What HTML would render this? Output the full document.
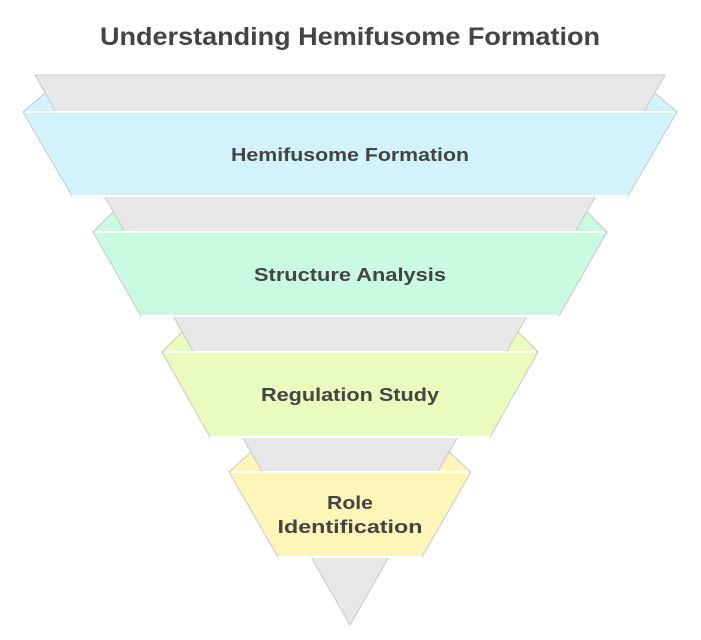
<!DOCTYPE html>
<html><head><meta charset="utf-8"><style>html,body{margin:0;padding:0;background:#fff}svg{display:block}</style></head><body>
<svg width="701" height="640" viewBox="0 0 701 640" xmlns="http://www.w3.org/2000/svg">
<g stroke="#c8c8c8" stroke-width="1" stroke-linejoin="round">
<!-- wedges -->
<polygon points="45,93 23,112 677,112 655,93" fill="#d2f2fc"/>
<polygon points="113,212 93,232 607,232 587,212" fill="#c9fbe3"/>
<polygon points="182,332 162,352 538,352 518,332" fill="#e9fbbd"/>
<polygon points="251,452 229,472 471,472 449,452" fill="#fef5b8"/>
<!-- gray funnel -->
<polygon points="35,75 665,75 350,625" fill="#e8e8e8"/>
<!-- bands -->
<polygon points="23,112 677,112 628,196 72,196" fill="#d2f2fc"/>
<polygon points="93,232 607,232 559,316 141,316" fill="#c9fbe3"/>
<polygon points="162,352 538,352 490,437 210,437" fill="#e9fbbd"/>
<polygon points="229,472 471,472 422,557 278,557" fill="#fef5b8"/>
</g>
<g stroke="#ffffff" stroke-width="2">
<line x1="25" y1="112" x2="675" y2="112"/><line x1="72" y1="196" x2="628" y2="196"/>
<line x1="95" y1="232" x2="605" y2="232"/><line x1="141" y1="316" x2="559" y2="316"/>
<line x1="164" y1="352" x2="536" y2="352"/><line x1="210" y1="437" x2="490" y2="437"/>
<line x1="231" y1="472" x2="469" y2="472"/><line x1="278" y1="557" x2="422" y2="557"/>
</g>
<g font-family="Liberation Sans, sans-serif" font-weight="bold" fill="#444" text-anchor="middle">
<text x="350" y="45" font-size="25" textLength="500" lengthAdjust="spacingAndGlyphs">Understanding Hemifusome Formation</text>
<text x="350" y="161" font-size="18" textLength="238" lengthAdjust="spacingAndGlyphs">Hemifusome Formation</text>
<text x="350" y="281" font-size="18" textLength="192" lengthAdjust="spacingAndGlyphs">Structure Analysis</text>
<text x="350" y="401" font-size="18" textLength="178" lengthAdjust="spacingAndGlyphs">Regulation Study</text>
<text x="350" y="509" font-size="18" textLength="46" lengthAdjust="spacingAndGlyphs">Role</text>
<text x="350" y="533" font-size="18" textLength="145" lengthAdjust="spacingAndGlyphs">Identification</text>
</g>
</svg>
</body></html>
